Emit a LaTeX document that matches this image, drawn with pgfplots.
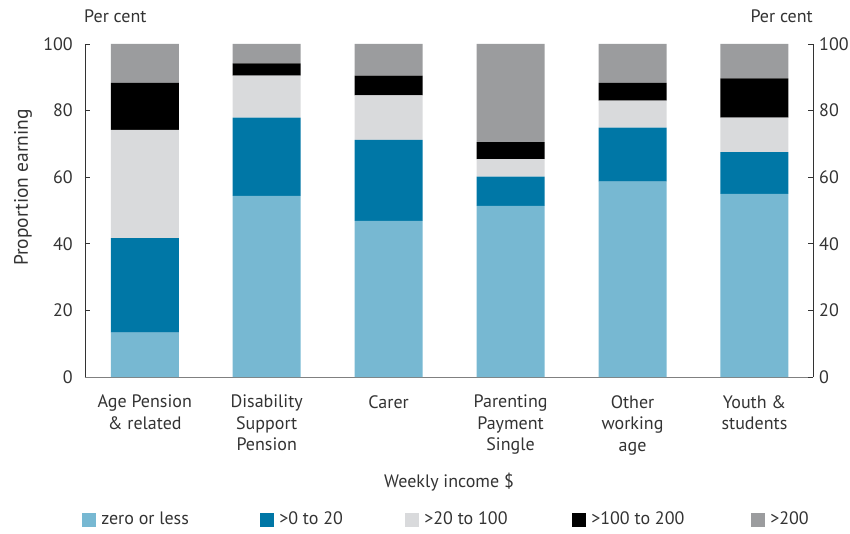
\documentclass[border=0pt]{standalone}
\usepackage{fontspec}
\setmainfont{PT Sans}
\usepackage{pgfplots}
\pgfplotsset{compat=1.18}

\definecolor{cZero}{HTML}{77B8D2}
\definecolor{cLow}{HTML}{0077A6}
\definecolor{cMid}{HTML}{D9DADC}
\definecolor{cHigh}{HTML}{000000}
\definecolor{cTop}{HTML}{9B9C9E}
\definecolor{txt}{HTML}{333333}

\begin{document}
\fontsize{18bp}{22bp}\selectfont
\begin{tikzpicture}[x=1bp,y=1bp]
\path[use as bounding box] (-85bp,-157bp) rectangle (765bp,377bp);
\begin{axis}[
    at={(0,0)}, anchor=south west,
    scale only axis,
    width=728bp, height=333bp,
    ybar stacked,
    bar width=68bp,
    xmin=-0.49, xmax=5.48,
    ymin=0, ymax=100,
    xtick=data,
    xticklabels={Age Pension\\\& related, Disability\\Support\\Pension, Carer,
        Parenting\\Payment\\Single, Other\\working\\age, Youth \&\\students},
    xticklabel style={align=center, anchor=north, yshift=-12bp, text=txt,
        font=\fontsize{18bp}{21.5bp}\selectfont},
    x tick style={draw=none},
    ytick={0,20,...,100},
    yticklabel style={text=txt, xshift=-6bp},
    /pgf/number format/assume math mode=true,
    tick align=inside,
    major tick length=5bp,
    y tick style={black!80, line width=0.8pt},
    axis x line*=bottom,
    axis y line*=left,
    x axis line style={-, gray, line width=0.8pt},
    y axis line style={-, black!80, line width=0.8pt},
    clip=false,
    legend columns=5,
    legend image code/.code={\fill[#1,draw=none] (0bp,-7bp) rectangle (14bp,7bp);},
    legend style={draw=none, fill=none, at={(-0.004,-0.429)}, anchor=west,
        inner sep=0pt, column sep=0pt, text=txt,
        nodes={inner xsep=5bp, inner ysep=0pt},
        font=\fontsize{18bp}{20bp}\selectfont},
    legend cell align=left,
]
\addplot+[fill=cZero, draw=none] coordinates {(0,13.3) (1,54.4) (2,46.9) (3,51.4) (4,58.7) (5,55.0)};
\addplot+[fill=cLow, draw=none] coordinates {(0,28.4) (1,23.5) (2,24.3) (3,8.8) (4,16.2) (5,12.5)};
\addplot+[fill=cMid, draw=none] coordinates {(0,32.5) (1,12.6) (2,13.4) (3,5.2) (4,8.1) (5,10.4)};
\addplot+[fill=cHigh, draw=none] coordinates {(0,14.1) (1,3.7) (2,5.9) (3,5.1) (4,5.3) (5,11.8)};
\addplot+[fill=cTop, draw=none] coordinates {(0,11.7) (1,5.8) (2,9.5) (3,29.5) (4,11.7) (5,10.3)};
\legend{\makebox[154bp][l]{zero or less}, \makebox[121bp][l]{>0 to 20},
    \makebox[143bp][l]{>20 to 100}, \makebox[155bp][l]{>100 to 200}, >200}
\node[anchor=base west, text=txt, inner sep=0pt] at ([xshift=-1bp,yshift=21bp]rel axis cs:0,1) {Per cent};
\node[rotate=90, anchor=center, text=txt, font=\fontsize{19.5bp}{22bp}\selectfont]
    at ([xshift=-62bp,yshift=23bp]rel axis cs:0,0.5) {Proportion earning};
\node[anchor=center, text=txt] at ([yshift=-105bp]rel axis cs:0.5,0) {Weekly income \$};
\end{axis}
\begin{axis}[
    at={(0,0)}, anchor=south west,
    scale only axis,
    width=728bp, height=333bp,
    xmin=-0.49, xmax=5.48,
    ymin=0, ymax=100,
    axis x line=none,
    axis y line*=right,
    y axis line style={-, black!80, line width=0.8pt},
    ytick={0,20,...,100},
    yticklabel style={text=txt, xshift=0bp},
    /pgf/number format/assume math mode=true,
    tick align=inside,
    major tick length=5bp,
    y tick style={black!80, line width=0.8pt},
    clip=false,
]
\node[anchor=base east, text=txt, inner sep=0pt] at ([yshift=21bp]rel axis cs:1,1) {Per cent};
\end{axis}
\end{tikzpicture}
\end{document}
